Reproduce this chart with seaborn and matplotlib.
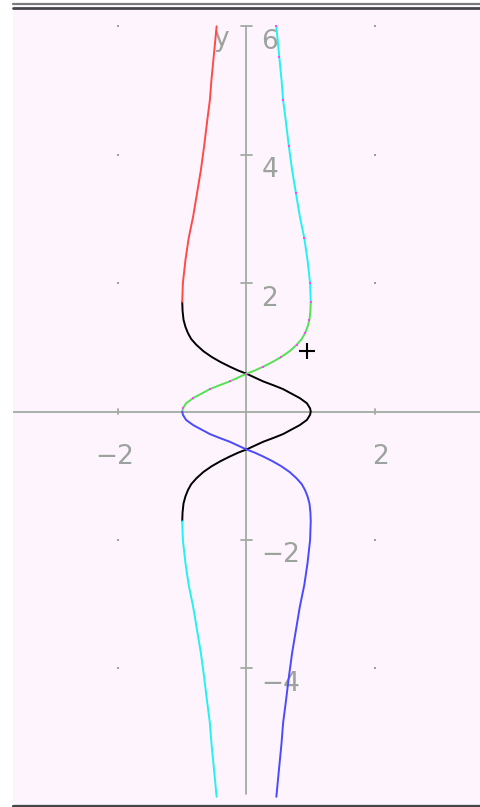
import matplotlib
matplotlib.use("Agg")
import matplotlib.pyplot as plt
from matplotlib.lines import Line2D
import seaborn as sns
import pandas as pd

sns.set_theme(style="white")
plt.rcParams["font.family"] = ["DejaVu Sans"]

# Central twisted branch, upper half: y values and the x position of the branch
# that starts at (1, 0) and ends at (-1, 1.71).
s_y = [0.00, 0.05, 0.13, 0.21, 0.28, 0.35, 0.41, 0.47, 0.53, 0.59, 0.64,
       0.70, 0.77, 0.85, 0.94, 1.04, 1.13, 1.22, 1.32, 1.43, 1.57, 1.71]
s_x = [1.00, 0.99, 0.94, 0.83, 0.70, 0.57, 0.42, 0.26, 0.13, 0.00, -0.13,
       -0.26, -0.40, -0.54, -0.67, -0.78, -0.86, -0.91, -0.95, -0.98, -0.995, -1.00]

# Outer tails: y values and distance from the y-axis.
t_y = [1.71, 2.00, 2.36, 2.70, 3.04, 3.40, 3.76, 4.13, 4.54, 4.85, 5.17, 5.53, 5.84, 6.00]
t_x = [1.00, 0.99, 0.95, 0.90, 0.83, 0.77, 0.71, 0.66, 0.61, 0.57, 0.545, 0.51, 0.48, 0.465]

x_ticks = [-2, 2]
y_ticks = [-4, -2, 2, 4, 6]
x_labels = ["\u22122", "2"]
y_labels = ["\u22124", "\u22122", "2", "4", "6"]
cursor = (0.94, 0.94)

neg = lambda v: [-a for a in v]

segments = [
    ("black", s_x[::-1] + s_x[1:], s_y[::-1] + neg(s_y[1:])),
    ("#55e055", neg(s_x), s_y),
    ("#4a4aff", neg(s_x) + t_x[1:], neg(s_y) + neg(t_y[1:])),
    ("#ff4a4a", neg(t_x), t_y),
    ("#22f2f2", t_x, t_y),
    ("#22f2f2", neg(t_x), neg(t_y)),
]

bg = "#fdf4fd"
axis_gray = "#a3aaa3"

fig = plt.figure(figsize=(4.81, 8.07), dpi=100, facecolor="white")
ax = fig.add_axes([13 / 481, 3 / 807, 468 / 481, 794 / 807])
ax.set_facecolor(bg)
for sp in ax.spines.values():
    sp.set_visible(False)
ax.set_xlim(-3.634, 3.650)
ax.set_ylim(-6.112, 6.255)
ax.set_xticks([])
ax.set_yticks([])

# axes through the origin
ax.axhline(0, color=axis_gray, lw=1.3, zorder=1)
ax.plot([0, 0], [-5.95, 6.0], color=axis_gray, lw=1.3, zorder=1)
for t in y_ticks:
    ax.plot([-0.08, 0.08], [t, t], color=axis_gray, lw=1.3, zorder=1)
for t in x_ticks:
    ax.plot([t, t], [-0.045, 0.045], color=axis_gray, lw=1.3, zorder=1)

# grid dots
gx, gy = [], []
for a in x_ticks:
    for b in y_ticks:
        gx.append(a)
        gy.append(b)
ax.scatter(gx, gy, s=2.5, color="#9aa09a", marker="s", linewidths=0, zorder=1)

# tick labels
tick_style = dict(color="#9ca39c", fontsize=19, zorder=2)
ax.text(-2.05, -0.71, x_labels[0], ha="center", va="center", **tick_style)
ax.text(2.09, -0.71, x_labels[1], ha="center", va="center", **tick_style)
for t, lab in zip(y_ticks, y_labels):
    ax.text(0.235, t - 0.24, lab, ha="left", va="center", **tick_style)
ax.text(-0.39, 5.80, "y", ha="center", va="center", **tick_style)

# curve branches
for color, xs, ys in segments:
    df = pd.DataFrame({"x": xs, "y": ys})
    sns.lineplot(data=df, x="x", y="y", sort=False, estimator=None,
                 color=color, lw=1.4, ax=ax, zorder=3)

# magenta speckle on the rising branch and upper-right tail
mx = neg(s_x)[1::2] + t_x[1::2]
my = s_y[1::2] + t_y[1::2]
ax.scatter(mx, my, s=3, color="#ff44ff", marker="s", linewidths=0, zorder=4)

ax.set_xlabel("")
ax.set_ylabel("")

# cursor
ax.plot([cursor[0]], [cursor[1]], marker="+", ms=11, mew=1.5, color="black", zorder=5)

# window frame lines
fig.add_artist(Line2D([13 / 481, 1], [1 - 4 / 807] * 2, color="#7c7880", lw=1.6))
fig.add_artist(Line2D([13 / 481, 1], [1 - 8 / 807] * 2, color="#48444c", lw=2.0))
fig.add_artist(Line2D([13 / 481, 1], [1.5 / 807] * 2, color="#48444c", lw=2.4))

fig.savefig("out.png", dpi=100, facecolor="white")
